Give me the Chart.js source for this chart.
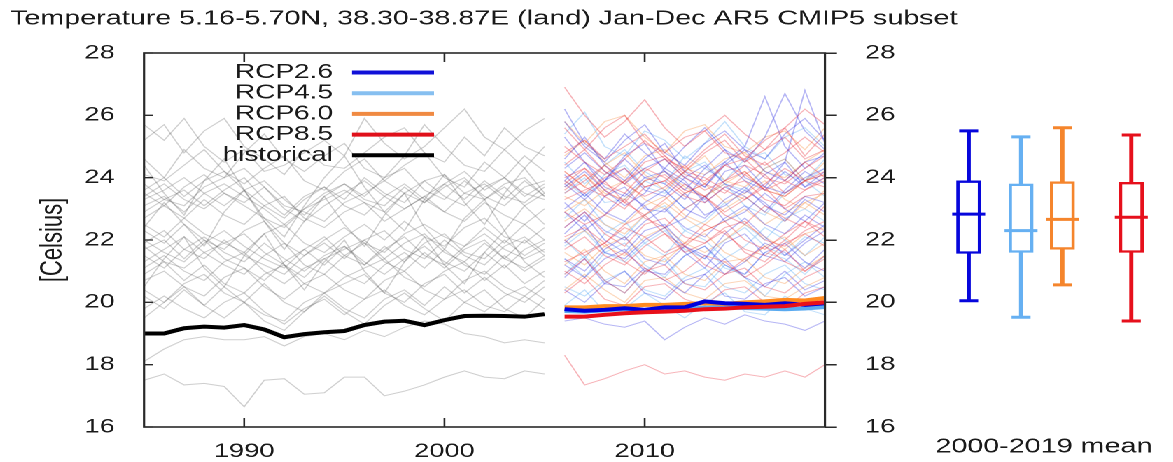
<!doctype html>
<html lang="en">
<head>
<meta charset="utf-8" />
<title>Temperature 5.16-5.70N, 38.30-38.87E (land)</title>
<script src="https://cdn.jsdelivr.net/npm/chart.js@4.4.1/dist/chart.umd.min.js"></script>
<style>
  html, body { margin: 0; padding: 0; background: #fff; overflow: hidden; }
  /* the picture is horizontally stretched, so draw narrow and widen the whole thing */
  #wrap { position: absolute; left: 0; top: 0; width: 838px; height: 462px; transform: scaleX(1.4); transform-origin: 0 0; }
  #mainChart { position: absolute; left: 0; top: 0; }
  #boxChart { position: absolute; left: 626px; top: 0; }
</style>
</head>
<body>
<div id="wrap">
  <canvas id="mainChart" width="838" height="462"></canvas>
  <canvas id="boxChart" width="212" height="462"></canvas>
</div>
<script>
// data
const histYears = [1985, 1986, 1987, 1988, 1989, 1990, 1991, 1992, 1993, 1994, 1995, 1996, 1997, 1998, 1999, 2000, 2001, 2002, 2003, 2004, 2005];
const futYears = [2006, 2007, 2008, 2009, 2010, 2011, 2012, 2013, 2014, 2015, 2016, 2017, 2018, 2019];
const xTicks = [1990, 2000, 2010];

// historical ensemble members (grey)
const histMembers = [
  [25.7,25.2,25.9,25.0,24.5,24.9,24.2,24.4,24.8,25.2,24.7,25.9,25.1,24.6,25.0,25.6,26.2,25.3,24.9,25.5,25.9],
  [25.2,25.7,24.8,25.5,25.9,25.0,24.6,24.1,24.9,24.4,24.3,24.8,25.3,25.6,24.8,24.5,25.3,24.7,25.6,25.0,24.7],
  [24.6,24.0,24.9,24.3,24.0,24.8,25.4,24.6,24.2,24.7,25.1,24.3,24.0,24.7,25.7,25.0,24.4,24.2,24.9,24.3,25.0],
  [24.1,23.9,24.4,24.9,24.2,23.8,24.3,24.7,23.9,23.6,24.2,24.6,23.9,24.4,24.8,24.0,23.7,24.5,24.0,24.7,24.2],
  [23.6,24.0,23.4,23.9,24.2,23.6,23.1,22.7,23.3,23.7,23.3,24.0,23.5,23.2,23.9,24.1,23.5,23.3,23.8,24.0,23.4],
  [23.3,23.6,24.0,23.5,23.1,23.6,23.9,23.3,22.8,23.4,23.8,23.4,24.0,24.3,23.6,23.3,23.9,23.4,23.1,23.7,23.9],
  [23.8,23.3,23.1,23.7,24.0,24.3,23.7,23.1,22.9,22.6,23.2,23.5,23.9,23.5,23.2,23.8,24.2,23.6,24.0,23.4,23.8],
  [23.1,23.4,22.9,23.5,23.8,23.4,23.0,22.5,23.0,23.3,23.6,23.2,22.9,23.5,23.9,23.4,23.1,23.7,24.0,23.5,23.3],
  [23.5,23.1,23.7,24.1,23.5,23.2,23.7,23.0,22.6,23.1,23.5,23.9,23.4,23.0,23.4,23.8,23.3,23.9,23.4,23.2,23.7],
  [22.9,23.3,23.6,23.1,23.6,24.0,23.3,22.8,23.4,23.7,23.1,22.8,23.4,23.8,23.3,22.9,23.5,23.8,23.3,23.9,23.4],
  [23.4,23.8,23.3,23.0,23.5,23.1,22.7,22.4,23.0,23.5,23.8,23.3,23.1,23.7,23.2,23.7,24.0,23.3,23.7,23.1,23.5],
  [22.7,23.1,22.7,23.3,22.8,22.5,23.1,23.4,22.7,22.4,22.9,23.2,22.6,23.0,23.4,22.9,22.6,23.2,22.8,22.5,23.0],
  [22.3,21.9,22.5,22.0,21.7,22.3,22.6,21.9,21.5,22.0,22.4,21.9,21.6,22.2,22.5,22.1,21.8,22.4,21.9,22.5,22.0],
  [21.9,22.3,21.7,21.4,22.0,21.5,21.2,20.9,21.5,21.9,21.4,22.0,22.3,21.7,21.4,22.0,21.5,21.2,21.8,22.1,21.6],
  [21.5,21.1,21.7,22.1,21.6,21.3,21.9,21.4,21.0,21.5,21.8,21.2,21.7,22.1,21.5,21.2,21.8,22.2,21.7,21.4,21.7],
  [22.0,21.6,21.3,21.9,22.3,21.8,21.4,21.1,21.7,22.1,21.5,21.2,21.8,21.3,21.9,22.2,21.6,21.4,22.0,21.5,21.9],
  [21.3,21.7,22.1,21.6,21.2,20.9,21.5,21.9,21.2,20.9,21.5,21.9,21.3,21.0,21.6,21.1,21.7,22.0,21.4,21.1,21.5],
  [21.8,21.3,21.1,21.6,21.9,22.2,21.6,21.2,20.8,21.4,21.7,22.0,21.4,21.9,22.2,21.6,21.3,21.9,21.4,22.0,21.5],
  [22.5,22.1,22.7,22.2,21.9,21.6,22.2,22.5,21.9,21.6,22.1,22.5,22.0,22.6,22.1,21.8,22.4,22.7,22.1,21.9,22.4],
  [21.1,21.5,21.0,20.7,21.3,21.6,21.0,20.6,21.1,21.4,20.9,20.6,21.2,21.6,21.1,21.7,21.2,20.9,21.5,21.0,21.4],
  [21.7,22.0,21.4,22.0,21.4,21.1,20.7,21.3,21.7,21.2,21.8,21.3,20.9,21.4,21.8,21.3,21.0,21.6,21.1,21.7,22.0],
  [20.7,21.0,20.5,20.2,20.8,21.1,20.5,20.1,20.6,20.9,20.4,20.1,20.7,21.0,20.4,20.1,20.7,21.0,20.5,20.2,20.7],
  [20.4,20.0,20.6,20.9,20.3,20.0,20.6,20.0,19.7,20.3,20.6,20.9,20.3,20.0,20.6,20.9,20.3,20.8,20.3,20.0,20.5],
  [20.9,21.3,20.7,21.2,20.6,20.3,20.9,21.2,20.6,20.3,20.8,21.1,21.4,20.8,20.5,21.0,21.3,20.7,21.2,20.6,21.0],
  [19.8,20.2,19.8,19.5,20.0,20.3,19.7,19.3,19.8,20.1,19.6,20.1,20.4,19.9,19.6,20.1,20.4,19.9,19.7,20.2,19.8],
  [20.2,19.8,20.4,19.9,20.5,20.0,19.6,19.4,20.0,20.3,19.8,19.5,20.1,20.4,19.9,20.5,20.0,19.7,20.2,20.5,20.1],
  [18.1,18.5,18.8,18.9,18.8,18.8,18.9,18.6,18.9,19.0,18.8,19.1,18.9,19.2,19.4,19.3,19.0,18.9,18.7,18.8,18.7],
  [17.5,17.7,17.35,17.4,17.3,16.65,17.5,17.55,17.05,17.1,17.6,17.6,17.0,17.15,17.35,17.6,17.8,17.6,17.55,17.8,17.7],
  [22.4,23.2,22.5,21.8,22.9,23.6,22.6,21.7,22.6,23.4,22.5,21.8,22.8,23.5,22.4,21.7,22.7,23.3,22.3,23.1,22.5],
  [24.4,23.5,22.8,23.9,24.6,23.6,22.7,22.1,23.1,24.0,24.7,23.7,22.9,22.3,23.3,24.1,23.2,22.5,23.5,24.3,23.5],
  [20.5,21.4,22.1,21.1,20.5,21.5,22.2,21.2,20.4,21.3,22.0,21.0,20.3,21.3,22.1,21.2,20.6,21.6,22.3,21.3,20.8],
  [19.5,20.0,20.5,19.9,19.5,20.0,19.4,19.1,19.7,20.2,19.7,19.3,19.9,20.3,19.8,19.4,20.0,20.4,19.8,19.5,20.1]
];

// scenario ensemble members
const rcp26Members = [
  [26.2,25.1,24.6,25.4,24.8,24.3,25.0,25.6,24.9,24.5,25.3,26.7,25.5,24.9],
  [24.1,23.4,23.9,24.6,24.0,23.8,23.3,24.1,24.5,23.9,23.6,24.2,23.7,24.0],
  [23.7,24.2,23.6,23.1,23.5,24.3,23.9,23.2,23.7,23.4,22.9,23.6,24.2,23.8],
  [22.9,22.3,22.8,23.5,23.1,22.4,22.7,23.4,22.6,22.9,23.5,23.0,22.6,23.2],
  [22.2,22.8,22.0,21.6,22.3,22.5,21.8,21.4,22.2,22.7,22.1,21.5,22.0,22.5],
  [21.4,21.0,21.7,22.1,21.4,21.2,21.8,21.5,20.9,21.3,21.9,21.6,21.1,21.7],
  [20.8,21.4,20.6,20.5,21.1,20.7,20.3,20.9,21.4,20.8,20.5,21.0,20.4,20.7],
  [19.4,19.5,19.3,19.2,19.4,18.8,19.2,19.5,19.3,19.6,19.4,19.3,19.1,19.4],
  [24.6,25.3,24.4,23.9,24.6,25.1,24.2,23.7,24.5,25.0,26.6,25.0,24.3,24.8],
  [23.2,22.6,23.4,23.7,23.0,22.9,23.5,22.8,23.1,23.6,23.2,22.6,23.3,22.9],
  [21.9,22.5,21.6,21.4,22.0,22.4,21.6,21.1,21.9,22.2,21.5,21.3,21.9,22.3],
  [20.4,20.0,20.6,21.0,20.3,20.1,20.7,20.9,20.2,20.1,20.6,20.8,20.2,20.5],
  [23.9,24.5,23.7,23.4,24.0,24.2,23.8,23.3,24.2,24.4,23.7,23.5,24.0,24.3],
  [25.3,24.5,23.9,24.7,25.1,24.2,23.6,24.3,24.9,24.0,23.7,24.5,26.8,25.1],
  [23.8,23.3,23.9,24.3,23.6,23.4,24.0,24.4,23.8,23.5,24.1,24.5,23.7,24.2],
  [22.4,22.9,22.3,22.0,22.6,23.0,22.4,22.1,22.7,23.1,22.5,22.2,22.8,22.4],
  [24.3,24.8,24.2,23.8,24.3,24.6,24.0,23.7,24.4,24.9,24.2,23.9,24.5,24.7],
  [21.2,20.8,21.4,21.7,21.0,20.9,21.5,21.8,21.2,20.9,21.6,21.9,21.3,21.0],
  [25.8,25.0,24.5,25.2,25.7,24.8,24.4,25.1,25.5,24.9,24.6,25.4,25.9,25.2],
  [23.0,23.5,22.9,22.6,23.2,23.6,23.0,22.7,23.3,23.7,23.1,22.8,23.4,23.2]
];
const rcp45Members = [
  [23.5,24.0,23.2,23.3,23.9,23.6,23.0,23.4,23.8,23.1,22.8,23.5,23.9,23.4],
  [22.0,21.4,22.2,22.6,21.9,21.5,22.3,22.0,21.4,21.8,22.4,22.0,21.5,22.1],
  [24.5,23.8,24.4,24.9,24.2,23.8,24.7,24.3,23.9,24.6,24.8,24.1,23.9,24.6],
  [20.9,21.5,20.7,20.3,21.0,21.4,20.6,20.5,21.2,20.8,20.2,20.9,21.3,20.8],
  [22.7,23.3,22.5,22.1,22.8,23.1,22.3,22.6,23.2,22.5,22.0,22.7,23.0,22.6],
  [25.4,26.1,25.0,24.7,25.5,25.2,24.6,25.1,25.8,25.0,24.6,25.3,25.6,25.0],
  [19.9,20.4,19.7,19.8,20.3,19.9,19.5,20.0,20.3,19.7,19.6,20.2,19.8,19.6],
  [21.4,20.8,21.6,21.9,21.2,20.8,21.5,21.8,21.1,20.9,21.6,21.4,20.9,21.5],
  [23.9,23.4,24.1,24.4,23.7,23.5,24.2,24.5,23.8,23.6,24.3,24.6,23.9,24.3],
  [21.8,22.3,21.6,21.3,21.9,22.3,21.7,21.4,22.0,22.4,21.8,21.5,22.1,21.9],
  [20.5,20.2,20.7,21.0,20.4,20.2,20.8,21.1,20.5,20.3,20.9,21.2,20.6,20.4]
];
const rcp60Members = [
  [24.2,23.7,24.4,24.8,24.1,23.6,24.2,24.7,23.9,23.7,24.3,24.6,23.9,24.5],
  [22.6,23.0,22.5,22.2,22.8,23.2,22.7,22.3,22.6,23.0,22.5,22.9,23.2,22.8],
  [21.2,21.7,21.0,20.6,21.3,21.5,20.9,20.7,21.3,21.4,20.8,20.6,21.1,21.5],
  [25.8,25.1,25.8,26.0,25.3,24.8,25.5,25.7,25.0,24.8,25.3,25.5,24.9,25.6],
  [23.4,23.1,23.6,23.9,23.3,23.0,23.5,23.8,23.2,23.5,23.9,23.3,23.0,23.6],
  [20.4,20.9,20.4,20.0,20.7,20.8,20.3,20.1,20.6,20.7,20.2,20.1,20.5,20.8],
  [22.0,22.3,21.8,21.5,22.1,22.4,21.9,21.6,22.0,22.5,22.1,21.7,22.2,22.4],
  [24.7,25.2,24.5,24.0,24.7,24.9,24.3,24.1,24.6,24.8,24.2,24.0,24.5,24.9],
  [23.7,24.1,23.5,23.3,23.9,24.2,23.7,23.4,23.8,24.2,23.6,23.4,23.9,24.1],
  [21.6,21.2,21.8,22.1,21.5,21.3,21.9,22.2,21.6,21.3,21.8,22.1,21.5,21.9],
  [22.9,23.3,22.8,22.5,23.1,23.4,22.8,22.5,23.0,23.4,22.9,22.6,23.2,23.5]
];
const rcp85Members = [
  [26.9,26.0,25.3,25.8,26.5,25.6,25.0,25.5,26.0,25.4,24.9,25.6,26.2,25.7],
  [24.0,24.3,23.8,23.5,24.2,24.6,24.0,23.6,23.9,24.4,24.1,23.5,23.9,24.2],
  [23.8,24.3,23.6,23.2,23.9,24.1,23.6,23.4,23.9,24.2,23.6,23.4,23.9,24.1],
  [23.3,23.6,23.9,23.2,22.8,23.3,23.8,23.4,22.9,23.3,23.7,23.0,23.4,23.5],
  [22.4,22.9,22.2,21.8,22.5,22.7,22.1,21.9,22.4,22.6,22.0,21.8,22.3,22.6],
  [21.7,22.1,21.5,21.2,21.8,22.2,21.6,21.9,22.3,21.6,21.3,21.9,22.2,21.8],
  [20.9,21.4,20.7,20.3,21.0,21.2,20.6,20.4,20.9,21.1,20.5,20.3,20.8,21.1],
  [18.3,17.35,17.55,17.8,18.0,17.7,17.8,17.6,17.5,17.7,17.6,17.8,17.6,18.0],
  [24.8,25.2,24.6,25.0,25.4,24.7,24.2,24.8,25.2,24.5,24.9,25.3,24.6,24.9],
  [23.6,24.1,23.4,23.0,23.7,23.9,23.4,23.2,23.7,23.9,23.3,23.1,23.6,23.9],
  [22.9,22.5,22.8,23.3,22.7,22.4,23.0,23.4,22.8,22.5,23.1,22.7,22.4,23.1],
  [21.3,21.6,21.9,21.3,20.9,21.5,21.8,21.2,20.9,21.4,21.8,21.3,21.0,21.5],
  [20.3,20.8,20.1,19.9,20.5,20.6,20.1,19.9,20.4,20.5,20.0,19.8,20.3,20.5],
  [25.6,24.9,25.6,26.0,25.1,24.8,25.3,25.5,24.8,24.6,25.2,25.6,24.7,25.4],
  [24.4,24.9,24.2,23.8,24.5,24.7,24.1,23.9,24.4,24.6,24.0,23.8,24.3,24.7],
  [22.1,22.4,21.9,22.5,22.8,22.2,21.8,22.3,22.6,22.0,21.7,22.2,22.6,22.3],
  [23.9,23.5,24.0,24.3,23.7,23.9,24.4,23.8,23.5,24.1,24.5,23.9,23.6,24.0],
  [23.5,23.9,24.4,23.8,23.4,23.7,24.2,24.0,23.6,23.3,23.8,24.3,23.9,23.7],
  [22.0,21.5,21.9,22.4,22.1,21.6,21.9,22.5,22.2,21.7,21.5,22.0,22.6,22.1],
  [24.2,23.7,23.4,23.9,24.3,24.0,23.5,23.8,24.4,24.1,23.6,23.9,24.5,24.0],
  [21.0,20.6,21.2,21.6,21.1,20.7,21.0,21.5,21.3,20.8,21.2,21.7,21.0,21.4],
  [25.0,24.5,24.1,24.6,25.2,24.6,24.3,24.9,25.4,24.7,24.4,24.8,25.3,24.8]
];

// thick lines
const histMean = [19.0,19.0,19.17,19.22,19.19,19.27,19.13,18.88,18.98,19.04,19.08,19.27,19.38,19.41,19.27,19.43,19.56,19.57,19.56,19.54,19.62];
const rcp26Mean = [19.78,19.73,19.76,19.81,19.76,19.84,19.84,20.03,19.97,19.95,19.92,19.97,19.92,19.97];
const rcp45Mean = [19.72,19.70,19.74,19.78,19.75,19.80,19.79,19.83,19.84,19.82,19.80,19.78,19.80,19.85];
const rcp60Mean = [19.84,19.84,19.88,19.88,19.92,19.92,19.95,19.97,19.95,20.0,20.03,20.08,20.06,20.14];
const rcp85Mean = [19.54,19.54,19.6,19.65,19.68,19.7,19.73,19.78,19.8,19.84,19.86,19.88,19.95,20.0];

// 2000-2019 mean box plots, placed at the forcing value
const boxPos = [2.6, 4.5, 6.0, 8.5];
const boxMin = [20.05, 19.52, 20.56, 19.4];
const boxQ1 = [21.57, 21.6, 21.7, 21.6];
const boxMed = [22.83, 22.3, 22.66, 22.73];
const boxQ3 = [23.9, 23.8, 23.87, 23.85];
const boxMax = [25.5, 25.31, 25.6, 25.37];

const legendLabels = ['RCP2.6', 'RCP4.5', 'RCP6.0', 'RCP8.5', 'historical'];

// styles
const FONT = '"Liberation Sans", Arial, sans-serif';
const INK = '#1a1a1a';
const S = 1.4;
const px = v => v / S;   // target picture x -> drawing x
const boxColors = ['#0606dc', '#66b0f2', '#f5852c', '#e6101c'];
const legendColors = ['#1010d8', '#86bff0', '#f08a42', '#e0101a', '#000000'];
const thinColors = {
  hist: 'rgba(70,70,70,0.26)',
  rcp26: 'rgba(40,40,225,0.33)',
  rcp45: 'rgba(100,175,245,0.38)',
  rcp60: 'rgba(245,140,60,0.35)',
  rcp85: 'rgba(230,30,45,0.33)'
};

Chart.defaults.font.family = FONT;
Chart.defaults.color = INK;

const pts = (years, vals) => vals.map((v, i) => ({ x: years[i], y: v }));
const thin = (years, vals, color) => ({ data: pts(years, vals), borderColor: color, borderWidth: 1, pointRadius: 0, order: 2 });
const thick = (years, vals, color) => ({ data: pts(years, vals), borderColor: color, borderWidth: 4, pointRadius: 0, order: 1 });

const datasets = [
  thick(futYears, rcp85Mean, '#e8101a'),
  thick(futYears, rcp26Mean, '#0000dc'),
  thick(futYears, rcp60Mean, '#ff8a20'),
  thick(futYears, rcp45Mean, '#5aaaf0'),
  thick(histYears, histMean, '#000000'),
  ...rcp85Members.map(m => thin(futYears, m, thinColors.rcp85)),
  ...rcp26Members.map(m => thin(futYears, m, thinColors.rcp26)),
  ...rcp60Members.map(m => thin(futYears, m, thinColors.rcp60)),
  ...rcp45Members.map(m => thin(futYears, m, thinColors.rcp45)),
  ...histMembers.map(m => thin(histYears, m, thinColors.hist))
];

// plot frame with inward ticks
const framePlugin = {
  id: 'frame',
  afterDatasetsDraw(chart) {
    const { ctx, chartArea: a, scales: { x, y } } = chart;
    ctx.save();
    ctx.strokeStyle = '#2a2a2a';
    ctx.lineWidth = 1.6;
    ctx.strokeRect(a.left, a.top, a.right - a.left, a.bottom - a.top);
    ctx.lineWidth = 1.3;
    ctx.beginPath();
    y.ticks.forEach(t => {
      const py = y.getPixelForValue(t.value);
      ctx.moveTo(a.left, py);
      ctx.lineTo(a.left + px(9), py);
    });
    x.ticks.forEach(t => {
      const p = x.getPixelForValue(t.value);
      ctx.moveTo(p, a.top);
      ctx.lineTo(p, a.top + 9);
      ctx.moveTo(p, a.bottom);
      ctx.lineTo(p, a.bottom - 9);
    });
    ctx.stroke();
    ctx.restore();
  }
};

// legend in the upper left, text right aligned, sample to its right
const legendPlugin = {
  id: 'insideLegend',
  afterDraw(chart) {
    const ctx = chart.ctx;
    ctx.save();
    ctx.font = '20px ' + FONT;
    ctx.textAlign = 'right';
    ctx.textBaseline = 'middle';
    ctx.fillStyle = INK;
    legendLabels.forEach((lab, i) => {
      const yy = 72.5 + i * 20.7;
      ctx.fillText(lab, px(333), yy);
      ctx.strokeStyle = legendColors[i];
      ctx.lineWidth = 4;
      ctx.beginPath();
      ctx.moveTo(px(352), yy);
      ctx.lineTo(px(434), yy);
      ctx.stroke();
    });
    ctx.restore();
  }
};

new Chart(document.getElementById('mainChart'), {
  type: 'line',
  data: { datasets },
  options: {
    responsive: false,
    animation: false,
    devicePixelRatio: 2,
    layout: { padding: { left: px(10), right: 0, top: 0, bottom: 0 } },
    plugins: {
      legend: { display: false },
      tooltip: { enabled: false },
      title: {
        display: true,
        text: 'Temperature 5.16-5.70N, 38.30-38.87E (land) Jan-Dec AR5 CMIP5 subset',
        align: 'start',
        color: INK,
        font: { size: 20.5, weight: 'normal' },
        padding: { top: 6.7, bottom: 21.7 }
      }
    },
    scales: {
      x: {
        type: 'linear',
        min: 1985,
        max: 2019,
        grid: { display: false },
        border: { display: false },
        afterBuildTicks: s => { s.ticks = xTicks.map(v => ({ value: v })); },
        ticks: { callback: v => String(v), font: { size: 19.5 }, color: INK, padding: 5, maxRotation: 0 },
        afterFit: s => { s.height = 35; }
      },
      y: {
        position: 'left',
        min: 16,
        max: 28,
        grid: { display: false },
        border: { display: false },
        ticks: { stepSize: 2, font: { size: 19.5 }, color: INK, padding: px(18) },
        title: { display: true, text: '[Celsius]', color: INK, font: { size: 22 }, padding: { top: px(53) - px(10) - 13.2 } },
        afterFit: s => { s.width = px(144) - px(10); }
      },
      y2: {
        position: 'right',
        min: 16,
        max: 28,
        grid: { display: true, drawOnChartArea: false, drawTicks: true, tickLength: px(12), color: '#2a2a2a', lineWidth: 1.5 },
        border: { display: false },
        ticks: { stepSize: 2, font: { size: 19.5 }, color: INK, padding: px(865 - 825 - 12) },
        afterFit: s => { s.width = 838 - px(825); }
      }
    }
  },
  plugins: [framePlugin, legendPlugin]
});

// box plots of the 2000-2019 mean
new Chart(document.getElementById('boxChart'), {
  type: 'bar',
  data: {
    datasets: [
      {
        type: 'scatter',
        data: boxPos.map((p, i) => ({ x: p, y: boxMed[i] })),
        pointStyle: 'line',
        pointRadius: px(33) / 2,
        borderColor: boxColors,
        borderWidth: 3,
        order: 0
      },
      {
        type: 'scatter',
        data: boxPos.flatMap((p, i) => [{ x: p, y: boxMin[i] }, { x: p, y: boxMax[i] }]),
        pointStyle: 'line',
        pointRadius: px(19) / 2,
        borderColor: boxColors.flatMap(c => [c, c]),
        borderWidth: 3,
        order: 1
      },
      {
        data: boxPos.map((p, i) => ({ x: p, y: [boxQ1[i], boxQ3[i]] })),
        backgroundColor: '#ffffff',
        borderColor: boxColors,
        borderWidth: 2.4,
        borderSkipped: false,
        barThickness: px(24),
        grouped: false,
        order: 2
      },
      {
        data: boxPos.map((p, i) => ({ x: p, y: [boxMin[i], boxMax[i]] })),
        backgroundColor: boxColors,
        barThickness: px(3.2),
        grouped: false,
        order: 3
      }
    ]
  },
  options: {
    responsive: false,
    animation: false,
    devicePixelRatio: 2,
    layout: { padding: { top: 53, left: 0, right: 0, bottom: 0 } },
    plugins: { legend: { display: false }, tooltip: { enabled: false } },
    scales: {
      x: {
        type: 'linear',
        min: 0,
        max: 212 / px(32.03),
        offset: false,
        grid: { display: false },
        border: { display: false },
        ticks: { display: false },
        title: { display: true, text: '2000-2019 mean', align: 'end', color: INK, font: { size: 20.5 }, padding: { top: 0, bottom: 3 } },
        afterFit: s => { s.height = 35; }
      },
      y: { display: false, min: 16, max: 28 }
    }
  }
});
</script>
</body>
</html>
